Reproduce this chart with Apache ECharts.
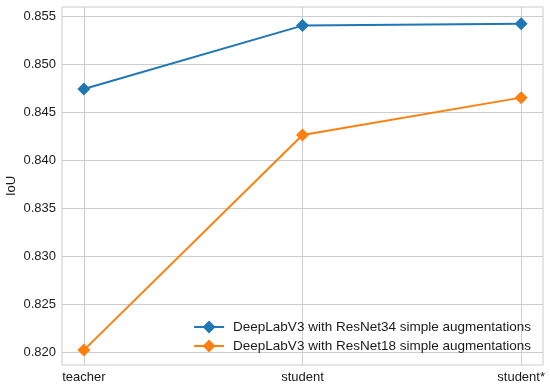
<!DOCTYPE html>
<html>
<head>
<meta charset="utf-8">
<script src="https://cdn.jsdelivr.net/npm/echarts@6/dist/echarts.min.js"></script>
<style>html,body{margin:0;padding:0;background:#fff;}#c{width:550px;height:387px;}</style>
</head>
<body>
<div id="c"></div>
<script>
const categories = ['teacher', 'student', 'student*'];
const resnet34 = [0.8474, 0.8540, 0.8542];
const resnet18 = [0.8202, 0.8426, 0.8465];
const yTicks = [0.820, 0.825, 0.830, 0.835, 0.840, 0.845, 0.850, 0.855];
const seriesNames = ['DeepLabV3 with ResNet34 simple augmentations', 'DeepLabV3 with ResNet18 simple augmentations'];

const font = 'Liberation Sans, Arial, sans-serif';
const chart = echarts.init(document.getElementById('c'), null, {renderer: 'canvas'});
const toPts = arr => arr.map((v, i) => [i, v]);
chart.setOption({
  animation: false,
  backgroundColor: '#fff',
  textStyle: {fontFamily: font},
  grid: {left: 62, right: 7, top: 7, bottom: 22, show: true, borderColor: '#cccccc', borderWidth: 1, containLabel: false, outerBoundsMode: 'none'},
  legend: {
    orient: 'vertical', right: 14, bottom: 29, itemWidth: 30, itemHeight: 16, itemGap: 5,
    textStyle: {fontFamily: font, fontSize: 13.5, color: '#1a1a1a', padding: [0, 0, 0, 4]},
    data: seriesNames
  },
  xAxis: {
    type: 'value', min: -0.1, max: 2.1,
    axisLine: {show: false},
    axisTick: {show: false, customValues: [0, 1, 2]},
    axisLabel: {customValues: [0, 1, 2], formatter: v => categories[Math.round(v)], fontSize: 13, color: '#1a1a1a', margin: 6, fontFamily: font},
    splitLine: {show: true, lineStyle: {color: '#cccccc', width: 1}}
  },
  yAxis: {
    type: 'value', min: 0.81865, max: 0.85594,
    name: 'IoU', nameLocation: 'middle', nameGap: 44, nameRotate: 90, nameMoveOverlap: false,
    nameTextStyle: {fontSize: 13, color: '#1a1a1a', fontFamily: font},
    axisLine: {show: false},
    axisTick: {show: true, customValues: yTicks, length: 4, lineStyle: {color: '#cccccc'}},
    axisLabel: {customValues: yTicks, formatter: v => v.toFixed(3), fontSize: 13, color: '#1a1a1a', margin: 6, fontFamily: font},
    splitLine: {show: true, lineStyle: {color: '#cccccc', width: 1}}
  },
  series: [
    {name: seriesNames[0], type: 'line', data: toPts(resnet34), symbol: 'diamond', symbolSize: 13,
     itemStyle: {color: '#1f77b4'}, lineStyle: {color: '#1f77b4', width: 2}},
    {name: seriesNames[1], type: 'line', data: toPts(resnet18), symbol: 'diamond', symbolSize: 13,
     itemStyle: {color: '#ff7f0e'}, lineStyle: {color: '#ff7f0e', width: 2}}
  ]
});
</script>
</body>
</html>
